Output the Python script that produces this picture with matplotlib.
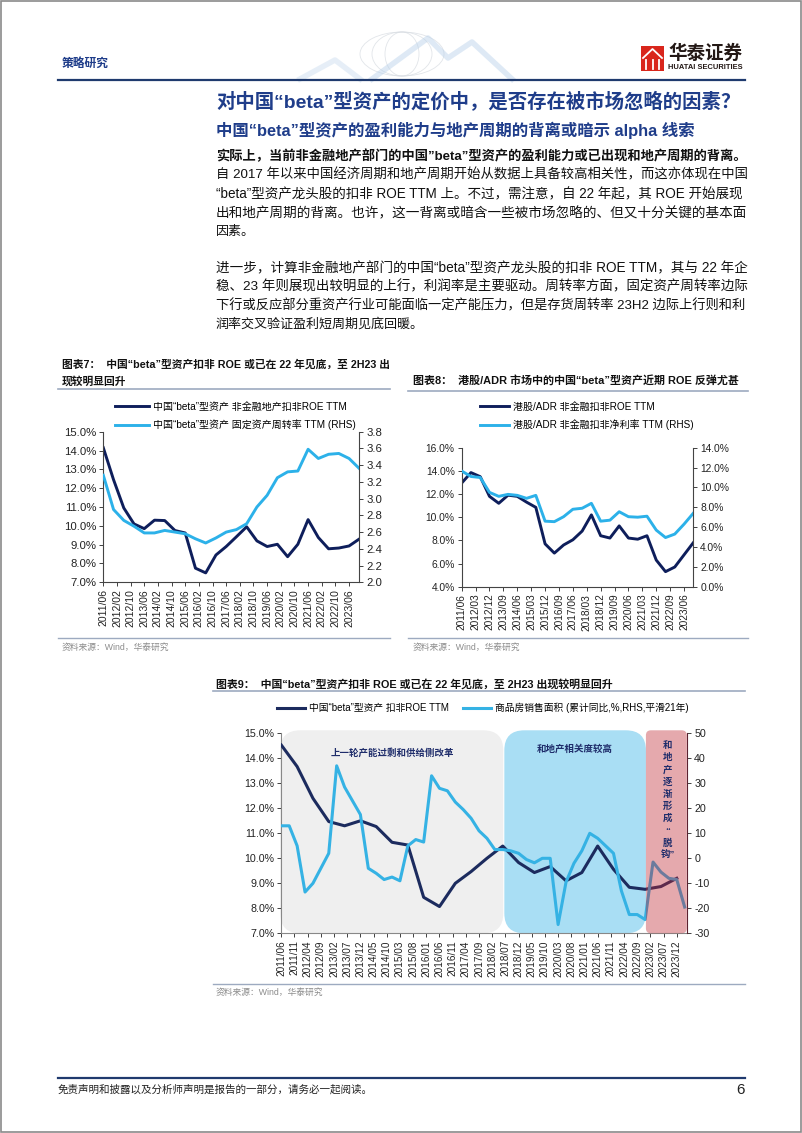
import matplotlib.pyplot as plt
import matplotlib.ticker as mtick
import matplotlib.transforms as mtransforms
import pandas as pd
from matplotlib.lines import Line2D
from matplotlib.patches import Rectangle, FancyBboxPatch, Ellipse

plt.rcParams['font.family'] = ['Liberation Sans', 'Noto Sans CJK SC', 'DejaVu Sans']
plt.rcParams['axes.unicode_minus'] = False

# ---------------- data ----------------
dates_h = ['2011/06', '2011/12', '2012/06', '2012/12', '2013/06', '2013/12', '2014/06',
           '2014/12', '2015/06', '2015/12', '2016/06', '2016/12', '2017/06', '2017/12',
           '2018/06', '2018/12', '2019/06', '2019/12', '2020/06', '2020/12', '2021/06',
           '2021/12', '2022/06', '2022/12', '2023/06', '2023/12']
dates_q = list(pd.date_range('2011-06-01', '2024-03-01', freq='3MS').strftime('%Y/%m'))

# chart 7
roe7 = [14.15, 12.45, 10.95, 10.1, 9.85, 10.3, 10.28, 9.75, 9.62, 7.75, 7.5, 8.45, 8.9,
        9.42, 9.95, 9.2, 8.9, 9.02, 8.36, 9.02, 10.33, 9.38, 8.78, 8.82, 8.93, 9.3]
turn7 = [3.28, 2.87, 2.74, 2.67, 2.59, 2.59, 2.62, 2.60, 2.58, 2.52, 2.47, 2.53, 2.60,
         2.63, 2.70, 2.90, 3.04, 3.25, 3.32, 3.33, 3.59, 3.48, 3.53, 3.54, 3.48, 3.36]
ticks7 = ['2011/06', '2012/02', '2012/10', '2013/06', '2014/02', '2014/10', '2015/06',
          '2016/02', '2016/10', '2017/06', '2018/02', '2018/10', '2019/06', '2020/02',
          '2020/10', '2021/06', '2022/02', '2022/10', '2023/06']

# chart 8
roe8 = [12.95, 13.85, 13.5, 11.8, 11.2, 11.9, 11.8, 11.3, 10.85, 7.7, 6.9, 7.6, 8.05,
        8.8, 10.2, 8.4, 8.2, 9.25, 8.2, 8.1, 8.4, 6.3, 5.3, 5.7, 6.75, 7.8]
margin8 = [11.65, 11.1, 11.0, 9.5, 9.1, 9.3, 9.2, 8.9, 9.2, 6.6, 6.55, 7.05, 7.8, 7.9,
           8.4, 6.6, 6.7, 7.55, 7.05, 7.0, 7.1, 5.7, 4.95, 5.3, 6.3, 7.4]
ticks8 = ['2011/06', '2012/03', '2012/12', '2013/09', '2014/06', '2015/03', '2015/12',
          '2016/09', '2017/06', '2018/03', '2018/12', '2019/09', '2020/06', '2021/03',
          '2021/12', '2022/09', '2023/06']

# chart 9
roe9 = [14.53, 13.67, 12.4, 11.47, 11.3, 11.5, 11.27, 10.64, 10.53, 8.44, 8.07, 9.0, 9.47,
        10.0, 10.49, 9.83, 9.43, 9.67, 9.1, 9.43, 10.49, 9.56, 8.84, 8.76, 8.87, 9.2]
sales9 = [13, 13, 5, -13.5, -10, -4, 2, 37, 28.5, 23, 17.5, -4, -6, -8.5, -7.5, -9, 5,
          7.5, 6.5, 33, 28, 27, 22.5, 19.5, 16, 11, 8, 3.5, 3.5, 3.0, 2.0, -0.5, -1.8, 0,
          0, -26.5, -9.5, -2, 3, 10, 8, 5, 2, -13, -22.5, -22.5, -24.5, -1.5, -5.5, -8,
          -8.5, -19.5]
ticks9 = ['2011/06', '2011/11', '2012/04', '2012/09', '2013/02', '2013/07', '2013/12',
          '2014/05', '2014/10', '2015/03', '2015/08', '2016/01', '2016/06', '2016/11',
          '2017/04', '2017/09', '2018/02', '2018/07', '2018/12', '2019/05', '2019/10',
          '2020/03', '2020/08', '2021/01', '2021/06', '2021/11', '2022/04', '2022/09',
          '2023/02', '2023/07', '2023/12']
# shaded periods (start, end) on the month axis
period_old = ('2011/06', '2018/06')
period_corr = ('2018/07', '2022/12')
period_decouple = ('2023/01', '2024/04')


def month(s):
    y, m = s.split('/')
    return (int(y) - 2011) * 12 + int(m) - 6


DARK = '#0E1E5B'
LIGHT = '#2CB1E9'
NAVY = '#1F3D8A'

# ---------------- page ----------------
W, H = 802, 1133
fig = plt.figure(figsize=(W / 100, H / 100), dpi=100)
renderer = fig.canvas.get_renderer()


def fx(x):
    return x / W


def fy(y):
    return 1 - y / H


def text(x, y, s, size, **kw):
    kw.setdefault('va', 'center')
    return fig.text(fx(x), fy(y), s, fontsize=size, **kw)


def fit(t, width):
    w = t.get_window_extent(renderer).width
    t.set_fontsize(t.get_fontsize() * width / w)


def hline(x0, x1, y, color, lw):
    fig.add_artist(Line2D([fx(x0), fx(x1)], [fy(y), fy(y)], transform=fig.transFigure,
                          color=color, lw=lw))


def add_ax(x0, y0, x1, y1):
    return fig.add_axes([fx(x0), fy(y1), (x1 - x0) / W, (y1 - y0) / H])


# page border
fig.add_artist(Rectangle((0.001, 0.001), 0.998, 0.998, transform=fig.transFigure,
                         fill=False, ec='#8a8a8a', lw=1.2))

# header decoration (faint)
for pts, c in (([(300, 79), (335, 60), (360, 79)], '#C9DBEE'),
               ([(372, 79), (428, 38), (448, 58), (472, 42), (512, 79)], '#B7D0EA')):
    xs = [fx(p[0]) for p in pts]
    ys = [fy(p[1]) for p in pts]
    fig.add_artist(Line2D(xs, ys, transform=fig.transFigure, color=c, lw=4, alpha=0.45))
for w_ in (84, 60, 34):
    fig.add_artist(Ellipse((fx(402), fy(54)), w_ / W, 44 / H, transform=fig.transFigure,
                           fill=False, ec='#D5DAE0', lw=0.6, alpha=0.7))

text(62, 64, '策略研究', 8.5, color=NAVY, fontweight='bold')
hline(58, 745, 79.5, '#1F3A6E', 1.6)

# logo
fig.add_artist(Rectangle((fx(641), fy(71)), 23 / W, 25 / H, transform=fig.transFigure,
                         fc='#D9261C', ec='none'))
for xx in (646, 652.5, 659):
    fig.add_artist(Line2D([fx(xx), fx(xx)], [fy(69), fy(60)], transform=fig.transFigure,
                          color='white', lw=1.3))
fig.add_artist(Line2D([fx(643), fx(652.5), fx(662)], [fy(58), fy(49), fy(58)],
                      transform=fig.transFigure, color='white', lw=1.3))
t = text(668, 54, '华泰证券', 12, color='#231815', fontweight='bold')
fit(t, 74)
t = text(668, 67.5, 'HUATAI SECURITIES', 4.5, color='#231815', fontweight='bold')
fit(t, 74)

# titles
t = text(216, 102.5, '对中国“beta”型资产的定价中，是否存在被市场忽略的因素？', 13,
         color=NAVY, fontweight='bold')
fit(t, 524)
t = text(216, 130.5, '中国“beta”型资产的盈利能力与地产周期的背离或暗示 alpha 线索', 11,
         color=NAVY, fontweight='bold')
fit(t, 480)

body = [
    (156, '实际上，当前非金融地产部门的中国”beta”型资产的盈利能力或已出现和地产周期的背离。', True, True),
    (175, '自 2017 年以来中国经济周期和地产周期开始从数据上具备较高相关性，而这亦体现在中国', False, True),
    (194, '“beta”型资产龙头股的扣非 ROE TTM 上。不过，需注意，自 22 年起，其 ROE 开始展现', False, True),
    (213, '出和地产周期的背离。也许，这一背离或暗含一些被市场忽略的、但又十分关键的基本面', False, True),
    (232, '因素。', False, False),
    (268, '进一步，计算非金融地产部门的中国“beta”型资产龙头股的扣非 ROE TTM，其与 22 年企', False, True),
    (286.7, '稳、23 年则展现出较明显的上行，利润率是主要驱动。周转率方面，固定资产周转率边际', False, True),
    (305.3, '下行或反应部分重资产行业可能面临一定产能压力，但是存货周转率 23H2 边际上行则和利', False, True),
    (324, '润率交叉验证盈利短周期见底回暖。', False, False),
]
for y, s, bold, full in body:
    t = text(216, y, s, 9.4, color='#111111', fontweight='bold' if bold else 'normal')
    if full:
        fit(t, 528)

# ---------------- chart captions ----------------
GRID_LINE = '#9DAAC0'
t = text(62, 364, '图表7：  中国“beta”型资产扣非 ROE 或已在 22 年见底，至 2H23 出', 7.5,
         color='#111111', fontweight='bold')
fit(t, 326)
text(62, 381, '现较明显回升', t.get_fontsize(), color='#111111', fontweight='bold')
hline(58, 390, 388.5, GRID_LINE, 1.2)

t = text(413, 380.7, '图表8：  港股/ADR 市场中的中国“beta”型资产近期 ROE 反弹尤甚', 7.5,
         color='#111111', fontweight='bold')
fit(t, 324)
hline(408, 748, 391.5, GRID_LINE, 1.2)

t = text(216, 684, '图表9：  中国“beta”型资产扣非 ROE 或已在 22 年见底，至 2H23 出现较明显回升', 7.5,
         color='#111111', fontweight='bold')
fit(t, 397)
hline(213, 745, 691, GRID_LINE, 1.2)

hline(58, 390, 638, GRID_LINE, 1.0)
hline(408, 748, 638, GRID_LINE, 1.0)
hline(213, 745, 984, GRID_LINE, 1.0)
for x, y in ((62, 647), (413, 647), (216, 992)):
    text(x, y, '资料来源：Wind，华泰研究', 6.3, color='#8C8C8C')

# footer
hline(58, 745, 1077.7, '#1F3A6E', 1.6)
text(58, 1089.5, '免责声明和披露以及分析师声明是报告的一部分，请务必一起阅读。', 7.6,
     color='#222222', style='italic')
text(745, 1089.5, '6', 11, color='#222222', ha='right')


# ---------------- axes helpers ----------------
def style(ax, ax2, ticks, xmax, ysize=7.4, xsize=7.3):
    for a in (ax, ax2):
        a.spines['top'].set_visible(False)
        for sp in a.spines.values():
            sp.set_color('#444444')
            sp.set_linewidth(0.8)
        a.tick_params(length=3, width=0.6, pad=2, colors='#222222')
        a.tick_params(axis='y', labelsize=ysize)
    ax.tick_params(axis='x', labelsize=xsize)
    ax.spines['right'].set_visible(False)
    ax2.spines['left'].set_visible(False)
    ax2.spines['bottom'].set_visible(False)
    ax.set_xlim(0, xmax)
    ax.set_xticks([month(s) for s in ticks])
    ax.set_xticklabels(ticks, rotation=90)


def legend(ax, handles, x, y, ncol=1, hl=3.4, cs=1.6, size=7.2, ls=0.8):
    ax.legend(handles=handles, loc='upper left', bbox_to_anchor=(fx(x), fy(y)),
              bbox_transform=fig.transFigure, frameon=False, fontsize=size, ncol=ncol,
              handlelength=hl, handletextpad=0.4, labelspacing=ls, borderpad=0,
              borderaxespad=0, columnspacing=cs)


xh = [month(s) for s in dates_h]
xq = [month(s) for s in dates_q]

# ---------------- chart 7 ----------------
ax7 = add_ax(103.3, 431.7, 359.3, 582.3)
ax7b = ax7.twinx()
l1, = ax7.plot(xh, roe7, color=DARK, lw=2.1, label='中国“beta”型资产 非金融地产扣非ROE TTM')
l2, = ax7b.plot(xh, turn7, color=LIGHT, lw=2.1, label='中国“beta”型资产 固定资产周转率 TTM (RHS)')
ax7.set_ylim(7, 15)
ax7.set_yticks(range(7, 16))
ax7.yaxis.set_major_formatter(mtick.PercentFormatter(decimals=1))
ax7b.set_ylim(2.0, 3.8)
ax7b.set_yticks([2.0 + 0.2 * i for i in range(10)])
ax7b.yaxis.set_major_formatter(mtick.FormatStrFormatter('%.1f'))
style(ax7, ax7b, ticks7, 150, ysize=8.2, xsize=7.5)
legend(ax7, [l1, l2], 115, 401.5)

# ---------------- chart 8 ----------------
ax8 = add_ax(461.7, 447.7, 693.3, 586.7)
ax8b = ax8.twinx()
l1, = ax8.plot(xh, roe8, color=DARK, lw=2.1, label='港股/ADR 非金融扣非ROE TTM')
l2, = ax8b.plot(xh, margin8, color=LIGHT, lw=2.1, label='港股/ADR 非金融扣非净利率 TTM (RHS)')
ax8.set_ylim(4, 16)
ax8.set_yticks(range(4, 17, 2))
ax8.yaxis.set_major_formatter(mtick.PercentFormatter(decimals=1))
ax8b.set_ylim(0, 14)
ax8b.set_yticks(range(0, 15, 2))
ax8b.yaxis.set_major_formatter(mtick.PercentFormatter(decimals=1))
style(ax8, ax8b, ticks8, 150, ysize=7.4, xsize=7.3)
legend(ax8, [l1, l2], 480, 401.5, hl=2.9)

# ---------------- chart 9 ----------------
ax9 = add_ax(281.3, 733.3, 687.3, 933.3)
ax9b = ax9.twinx()
l1, = ax9.plot(xh, roe9, color='#1C2B5E', lw=2.2, label='中国“beta”型资产 扣非ROE TTM', zorder=3)
l2, = ax9b.plot(xq, sales9, color='#35B2E4', lw=2.2,
                label='商品房销售面积 (累计同比,%,RHS,平滑21年)', zorder=3)
ax9.set_ylim(7, 15)
ax9.set_yticks(range(7, 16))
ax9.yaxis.set_major_formatter(mtick.PercentFormatter(decimals=1))
ax9b.set_ylim(-30, 50)
ax9b.set_yticks(range(-30, 51, 10))
style(ax9, ax9b, ticks9, 154, ysize=7.7, xsize=7.2)
ax9.spines['left'].set_color('#888888')
ax9.spines['bottom'].set_color('#888888')
ax9b.spines['right'].set_color('#5C2230')
legend(ax9, [l1, l2], 276.7, 703, ncol=2, hl=2.9, cs=1.5, size=7.0)

fig.canvas.draw()
px_month = ax9.bbox.width / 154
aspect = px_month / ax9.bbox.height
blend9 = mtransforms.blended_transform_factory(ax9.transData, ax9.transAxes)
blend9b = mtransforms.blended_transform_factory(ax9b.transData, ax9b.transAxes)


def shade(ax, tr, period, pad0, pad1, color, r_px, **kw):
    x0 = month(period[0]) + pad0
    x1 = month(period[1]) + pad1
    r = r_px / px_month
    p = FancyBboxPatch((x0, 0.0), x1 - x0, 1.015,
                       boxstyle=f'round,pad=0,rounding_size={r}', transform=tr,
                       mutation_aspect=aspect, fc=color, ec='none', clip_on=False, **kw)
    ax.add_patch(p)


shade(ax9, blend9, period_old, -0.4, 0.2, '#EFEFEF', 20, zorder=0.5)
shade(ax9, blend9, period_corr, -0.4, 0.3, '#A9DEF4', 20, zorder=0.5)
shade(ax9b, blend9b, period_decouple, -0.7, -0.2, (0.75, 0.16, 0.2), 5, zorder=5, alpha=0.4)

ax9.text(42, 0.905, '上一轮产能过剩和供给侧改革', transform=blend9, fontsize=6.8,
         color='#1F2D6B', fontweight='bold', ha='center', va='center')
ax9.text(111.4, 0.92, '和地产相关度较高', transform=blend9, fontsize=6.8,
         color='#1F2D6B', fontweight='bold', ha='center', va='center')
vert = ['和', '地', '产', '逐', '渐', '形', '成', '“', '脱', '钩”']
for i, ch in enumerate(vert):
    ax9b.text(146.6, 0.94 - i * 0.061, ch, transform=blend9b, fontsize=6.8,
              color='#1F2D6B', fontweight='bold', ha='center', va='center', zorder=6)

fig.savefig('out.png', dpi=100)
